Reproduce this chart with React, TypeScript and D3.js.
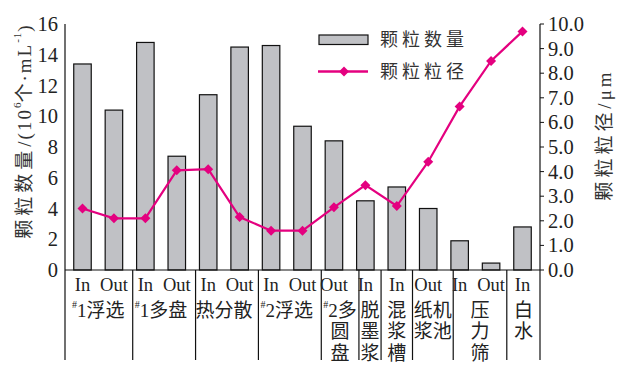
import React from "react";
import * as d3 from "d3";

const barLabels = ["In", "Out", "In", "Out", "In", "Out", "In", "Out", "Out", "In", "In", "Out", "In", "Out", "In"];
const counts = [13.4, 10.4, 14.8, 7.4, 11.4, 14.5, 14.6, 9.35, 8.4, 4.5, 5.4, 4.0, 1.9, 0.45, 2.8];
const sizes = [2.5, 2.1, 2.1, 4.05, 4.1, 2.15, 1.6, 1.6, 2.55, 3.45, 2.6, 4.4, 6.65, 8.5, 9.7];
const groupLabels = [["#1浮选"], ["#1多盘"], ["热分散"], ["#2浮选"], ["#2多", "圆", "盘"], ["脱", "墨", "浆"], ["混", "浆", "槽"], ["纸机", "浆池"], ["压", "力", "筛"], ["白", "水"]];
const groupSizes = [2, 2, 2, 2, 1, 1, 1, 1, 2, 1];
const leftTicks = [0, 2, 4, 6, 8, 10, 12, 14, 16];
const rightTicks = [0, 1, 2, 3, 4, 5, 6, 7, 8, 9, 10];
const legendLabels = ["颗粒数量", "颗粒粒径"];

const FONT = "'Liberation Serif', 'Noto Sans CJK SC', serif";
const MAGENTA = "#e4007f";
const BARFILL = "#c0c1c5";
const GFS = 19;

function Diamond({ x, y, r }: { x: number; y: number; r: number }) {
  return <path d={`M${x},${y - r}L${x + r},${y}L${x},${y + r}L${x - r},${y}Z`} fill={MAGENTA} />;
}

function GroupLine({ text, x, y }: { text: string; x: number; y: number }) {
  if (text.startsWith("#")) {
    return (
      <text x={x} y={y} textAnchor="middle" dominantBaseline="central" fontSize={GFS} fill="#222" fontFamily={FONT}>
        <tspan fontSize={10} dy={-6}>#</tspan>
        <tspan dy={6}>{text.slice(1)}</tspan>
      </text>
    );
  }
  return (
    <text x={x} y={y} textAnchor="middle" dominantBaseline="central" fontSize={GFS} fill="#222" fontFamily={FONT}>
      {text}
    </text>
  );
}

export default function App() {
  const left = 65, right = 540, top = 24, bottom = 270, divBottom = 360;
  const x = d3.scaleBand<number>().domain(d3.range(barLabels.length)).range([left, right]).paddingInner(0.443).paddingOuter(0.278);
  const yL = d3.scaleLinear().domain([0, 16]).range([bottom, top]);
  const yR = d3.scaleLinear().domain([0, 10]).range([bottom, top]);
  const cx = (i: number) => (x(i) as number) + x.bandwidth() / 2;
  const line = d3.line<number>().x((_, i) => cx(i)).y((d) => yR(d));

  // group boundaries
  const starts: number[] = [];
  let acc = 0;
  groupSizes.forEach((s) => { starts.push(acc); acc += s; });
  const gCenter = (g: number) => (cx(starts[g]) + cx(starts[g] + groupSizes[g] - 1)) / 2;
  const gHalfW = (g: number) => {
    const maxLen = d3.max(groupLabels[g], (s) => s.replace("#", "").length) || 1;
    return (maxLen * GFS) / 2;
  };
  const dividers: number[] = [left];
  for (let g = 1; g < groupSizes.length; g++) {
    const mid = (cx(starts[g] - 1) + cx(starts[g])) / 2;
    dividers.push(Math.max(mid, gCenter(g - 1) + gHalfW(g - 1) + 6));
  }
  dividers.push(right);

  return (
    <svg width={621} height={373} style={{ position: "absolute", left: 0, top: 0, background: "#fff" }} fontFamily={FONT}>
      {/* bars */}
      {counts.map((v, i) => (
        <rect key={i} x={x(i)} y={yL(v)} width={x.bandwidth()} height={bottom - yL(v)} fill={BARFILL} stroke="#111" strokeWidth={1.2} />
      ))}
      {/* axes */}
      <line x1={left} x2={left} y1={top} y2={divBottom} stroke="#111" strokeWidth={1.2} />
      <line x1={right} x2={right} y1={top} y2={divBottom} stroke="#111" strokeWidth={1.2} />
      <line x1={left} x2={right} y1={bottom} y2={bottom} stroke="#111" strokeWidth={1.2} />
      {dividers.slice(1, -1).map((d, i) => (
        <line key={i} x1={d} x2={d} y1={bottom} y2={divBottom} stroke="#111" strokeWidth={1.2} />
      ))}
      {/* left ticks */}
      {leftTicks.map((t) => (
        <text key={t} x={58} y={yL(t)} textAnchor="end" dominantBaseline="central" fontSize={20.5} fill="#222">{t}</text>
      ))}
      {/* right ticks */}
      {rightTicks.map((t) => (
        <g key={t}>
          <line x1={right} x2={right + 4} y1={yR(t)} y2={yR(t)} stroke="#111" strokeWidth={1} />
          <text x={548} y={yR(t)} dominantBaseline="central" fontSize={20.5} fill="#222">{t.toFixed(1)}</text>
        </g>
      ))}
      {/* line */}
      <path d={line(sizes) || ""} fill="none" stroke={MAGENTA} strokeWidth={2.2} />
      {sizes.map((v, i) => (
        <Diamond key={i} x={cx(i)} y={yR(v)} r={5} />
      ))}
      {/* bar labels */}
      {barLabels.map((l, i) => (
        <text key={i} x={cx(i)} y={285} textAnchor="middle" dominantBaseline="central" fontSize={18.5} fill="#222">{l}</text>
      ))}
      {/* group labels */}
      {groupLabels.map((lines, g) => {
        const gx = groupSizes[g] === 1 || g === 8 ? (dividers[g] + dividers[g + 1]) / 2 : gCenter(g);
        return lines.map((ln, k) => <GroupLine key={`${g}-${k}`} text={ln} x={gx} y={310 + k * 21.5} />);
      })}
      {/* left title */}
      <text transform="translate(24,132) rotate(-90)" textAnchor="middle" dominantBaseline="central" fontSize={19} fill="#333">
        <tspan letterSpacing={4}>颗粒数量</tspan>
        <tspan letterSpacing={2}>/(10</tspan>
        <tspan fontSize={11} dy={-7}>6</tspan>
        <tspan dy={7} letterSpacing={2}>个·mL</tspan>
        <tspan fontSize={11} dy={-7} letterSpacing={1}>-1</tspan>
        <tspan dy={7}>)</tspan>
      </text>
      {/* right title */}
      <text transform="translate(604,135) rotate(-90)" textAnchor="middle" dominantBaseline="central" fontSize={19} fill="#333">
        <tspan letterSpacing={4}>颗粒粒径</tspan>
        <tspan letterSpacing={3}>/μm</tspan>
      </text>
      {/* legend */}
      <rect x={319} y={35} width={49} height={9.5} fill={BARFILL} stroke="#111" strokeWidth={1.2} />
      <text x={380} y={40} dominantBaseline="central" fontSize={18} letterSpacing={4} fill="#333">{legendLabels[0]}</text>
      <line x1={318} x2={368} y1={71.5} y2={71.5} stroke={MAGENTA} strokeWidth={2.5} />
      <Diamond x={344} y={71.5} r={5} />
      <text x={380} y={71.5} dominantBaseline="central" fontSize={18} letterSpacing={4} fill="#333">{legendLabels[1]}</text>
    </svg>
  );
}
